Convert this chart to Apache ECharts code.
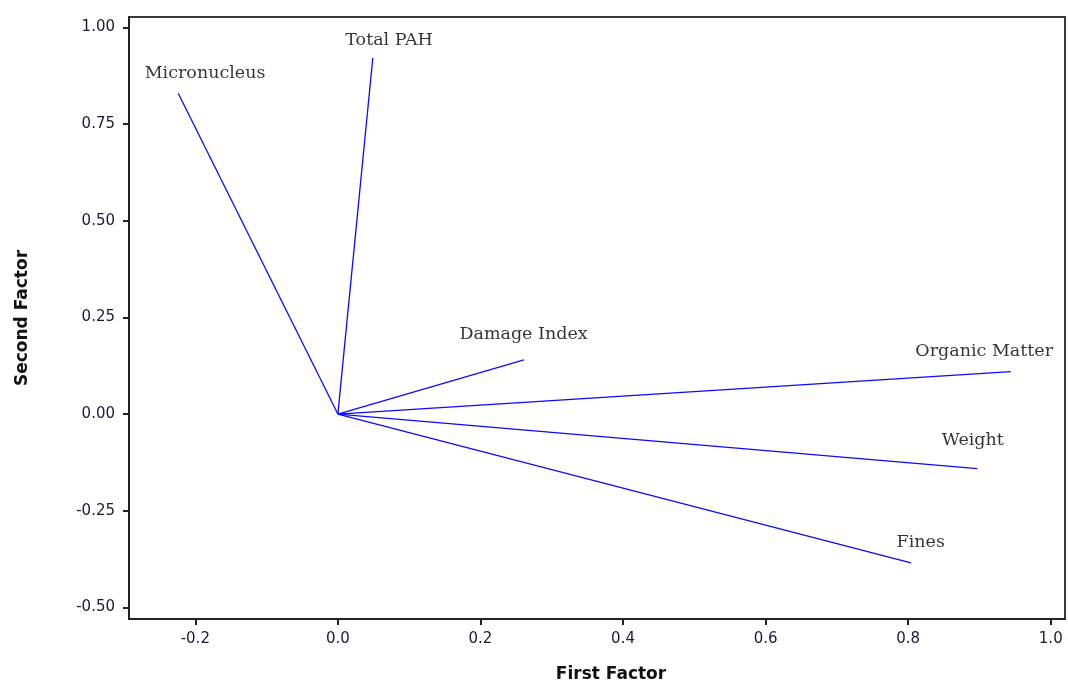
<!DOCTYPE html>
<html>
<head>
<meta charset="utf-8">
<script src="https://cdn.jsdelivr.net/npm/echarts@6/dist/echarts.min.js"></script>
<style>
html,body{margin:0;padding:0;background:#fff;}
#chart{width:1068px;height:690px;}
</style>
</head>
<body>
<div id="chart"></div>
<script>
// Variable names (loading vectors)
const variables = ['Micronucleus', 'Total PAH', 'Damage Index', 'Organic Matter', 'Weight', 'Fines'];
// First factor loadings
const firstFactor = [-0.224, 0.049, 0.261, 0.944, 0.897, 0.804];
// Second factor loadings
const secondFactor = [0.830, 0.921, 0.140, 0.110, -0.141, -0.385];
// Tick labels
const xTicks = [-0.2, 0.0, 0.2, 0.4, 0.6, 0.8, 1.0];
const yTicks = [-0.50, -0.25, 0.00, 0.25, 0.50, 0.75, 1.00];

// label offsets (pixels) from vector tip — styling only
const labelOffsets = [[-33,-19],[-27,-17],[-64,-25],[-95,-20],[-35,-28],[-14,-20]];

const lineSeries = variables.map((name, i) => ({
  type: 'line',
  name: name,
  data: [[0, 0], [firstFactor[i], secondFactor[i]]],
  showSymbol: false,
  symbol: 'none',
  lineStyle: { color: '#0a0aff', width: 1.3 },
  silent: true,
  animation: false
}));

const labelSeries = {
  type: 'scatter',
  symbolSize: 1,
  itemStyle: { color: 'rgba(0,0,0,0)' },
  animation: false,
  silent: true,
  data: variables.map((name, i) => ({
    value: [firstFactor[i], secondFactor[i]],
    name: name,
    label: {
      show: true,
      formatter: name,
      position: [0, 0],
      offset: labelOffsets[i],
      align: 'left',
      verticalAlign: 'middle',
      fontFamily: 'DejaVu Serif',
      fontSize: 17.5,
      color: '#000'
    }
  }))
};

const chart = echarts.init(document.getElementById('chart'), null, { renderer: 'canvas' });
chart.setOption({
  backgroundColor: '#fff',
  animation: false,
  grid: {
    left: 129, right: 3, top: 17, bottom: 71,
    show: true, borderColor: '#3a3a3a', borderWidth: 2, backgroundColor: 'transparent'
  },
  xAxis: {
    type: 'value',
    min: -0.293, max: 1.02,
    name: 'First Factor',
    nameLocation: 'middle',
    nameGap: 47,
    nameTextStyle: { fontFamily: 'DejaVu Sans', fontWeight: 'bold', fontSize: 17, color: '#111', padding: [0, 0, 0, 28] },
    axisLine: { show: true, onZero: false, lineStyle: { color: '#222', width: 2 } },
    axisTick: { show: true, length: 6, inside: false, customValues: xTicks, lineStyle: { color: '#222', width: 2 } },
    axisLabel: { customValues: xTicks, margin: 13, fontFamily: 'DejaVu Sans', fontSize: 15, color: '#1a1a3a',
      formatter: v => v.toFixed(1) },
    splitLine: { show: false }
  },
  yAxis: {
    type: 'value',
    min: -0.53, max: 1.027,
    name: 'Second Factor',
    nameLocation: 'middle',
    nameGap: 98,
    nameRotate: 90,
    nameTextStyle: { fontFamily: 'DejaVu Sans', fontWeight: 'bold', fontSize: 17, color: '#111' },
    axisLine: { show: true, onZero: false, lineStyle: { color: '#222', width: 2 } },
    axisTick: { show: true, length: 6, inside: false, customValues: yTicks, lineStyle: { color: '#222', width: 2 } },
    axisLabel: { customValues: yTicks, margin: 14, fontFamily: 'DejaVu Sans', fontSize: 15, color: '#1a1a3a',
      formatter: v => v.toFixed(2) },
    splitLine: { show: false }
  },
  series: lineSeries.concat([labelSeries])
});
</script>
</body>
</html>
